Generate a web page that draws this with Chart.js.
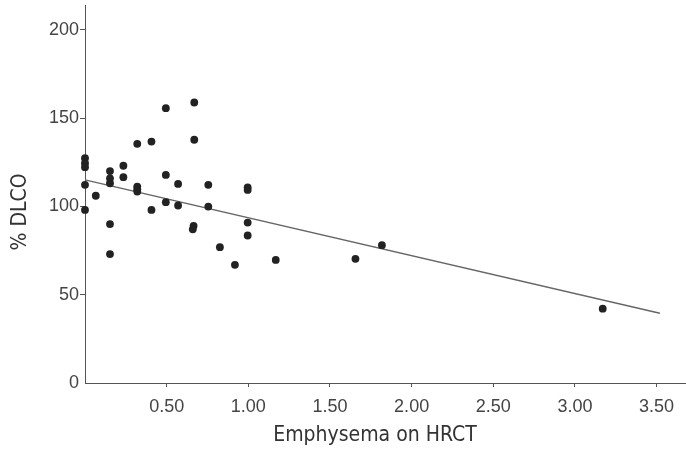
<!DOCTYPE html>
<html>
<head>
<meta charset="utf-8">
<script src="https://cdn.jsdelivr.net/npm/chart.js@4"></script>
<style>
  html, body { margin: 0; padding: 0; background: #fff; }
  #wrap { width: 686px; height: 451px; }
</style>
</head>
<body>
<div id="wrap"><canvas id="myChart" width="686" height="451"></canvas></div>
<script>
// emphysema score on HRCT (x) vs % DLCO (y)
const emphysema = [0, 0, 0, 0, 0, 0.066, 0.153, 0.153, 0.153, 0.153, 0.153, 0.235, 0.235,
  0.32, 0.32, 0.32, 0.32, 0.407, 0.407, 0.495, 0.495, 0.495, 0.669, 0.669, 0.665, 0.66,
  0.57, 0.57, 0.755, 0.755, 0.826, 0.918, 0.996, 0.996, 0.996, 0.996, 1.168, 1.656, 1.818, 3.17];
const dlco = [127.3, 124.4, 122.2, 112.2, 98, 106, 120, 115.9, 113.1, 90, 73, 123, 116.5,
  135.4, 111.2, 109.7, 108.4, 136.7, 98, 155.6, 117.8, 102.4, 158.8, 137.7, 89, 87,
  112.7, 100.5, 112.2, 99.9, 76.9, 66.9, 110.8, 109.3, 90.8, 83.5, 69.7, 70.3, 78, 42.1];

// regression line end points
const fitX = [0, 3.52];
const fitY = [115, 39.5];

const xTicks = [0.5, 1, 1.5, 2, 2.5, 3, 3.5];
const yTicks = [0, 50, 100, 150, 200];

const ink = '#444';
const tickFont = { family: 'Liberation Sans', size: 18 };

// axis titles drawn at the spots they sit in the figure
const axisTitles = {
  id: 'axisTitles',
  afterDraw(chart) {
    const ctx = chart.ctx;
    ctx.save();
    ctx.fillStyle = '#333';
    ctx.font = '21px "DejaVu Sans Condensed"';
    ctx.textAlign = 'center';
    ctx.textBaseline = 'middle';
    ctx.fillText('Emphysema on HRCT', 375, 436);
    ctx.translate(21, 212);
    ctx.rotate(-Math.PI / 2);
    ctx.fillText('% DLCO', 0, 0);
    ctx.restore();
  }
};

new Chart(document.getElementById('myChart'), {
  type: 'scatter',
  data: {
    datasets: [
      {
        label: 'patients',
        data: emphysema.map((x, i) => ({ x: x, y: dlco[i] })),
        backgroundColor: '#222',
        borderColor: '#222',
        pointRadius: 3.9,
        pointBorderWidth: 0,
        clip: false
      },
      {
        label: 'fit',
        type: 'line',
        data: fitX.map((x, i) => ({ x: x, y: fitY[i] })),
        borderColor: '#666',
        borderWidth: 1.4,
        pointRadius: 0,
        fill: false,
        clip: false
      }
    ]
  },
  options: {
    responsive: false,
    animation: false,
    layout: { padding: { top: 5, right: 0, left: 0, bottom: 0 }, autoPadding: false },
    plugins: {
      legend: { display: false },
      tooltip: { enabled: false }
    },
    scales: {
      x: {
        type: 'linear',
        min: 0,
        max: 3.68,
        afterBuildTicks: s => { s.ticks = xTicks.map(v => ({ value: v })); },
        afterFit: s => { s.height = 68; s.paddingLeft = 0; s.paddingRight = 0; },
        border: { color: '#555', width: 1 },
        grid: { drawOnChartArea: false, tickLength: 4, tickColor: '#555' },
        ticks: {
          font: tickFont,
          color: ink,
          padding: 9,
          maxRotation: 0,
          callback: v => v.toFixed(2)
        }
      },
      y: {
        min: 0,
        max: 214,
        afterBuildTicks: s => { s.ticks = yTicks.map(v => ({ value: v })); },
        afterFit: s => { s.width = 85; s.paddingTop = 0; s.paddingBottom = 0; },
        border: { color: '#555', width: 1 },
        grid: {
          drawOnChartArea: false,
          tickLength: 5,
          tickColor: c => (c.tick && c.tick.value === 0 ? 'rgba(0,0,0,0)' : '#555')
        },
        ticks: { font: tickFont, color: ink, padding: 1 }
      }
    }
  },
  plugins: [axisTitles]
});
</script>
</body>
</html>
